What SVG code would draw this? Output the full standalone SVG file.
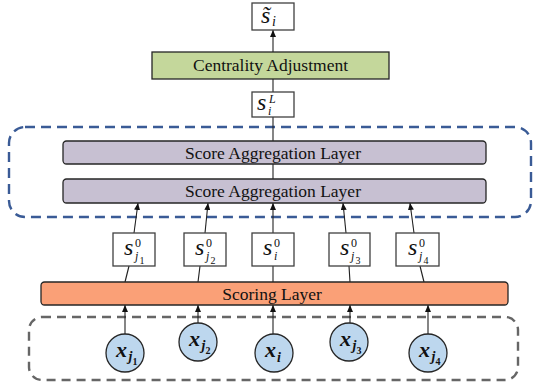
<svg xmlns="http://www.w3.org/2000/svg" width="534" height="388" viewBox="0 0 534 388" font-family="Liberation Serif, Times New Roman, DejaVu Serif, serif">
<style>
.box{fill:#fff;stroke:#404040;stroke-width:1.3}
.lay{stroke:#262626;stroke-width:1.3}
.ca{fill:#C4D79B}
.sa{fill:#C7C0D2}
.sc{fill:#FAA077}
.nd{fill:#BDD7EE;stroke:#262626;stroke-width:1.3}
.lt{font-family:"Liberation Serif",serif;font-size:17.5px;fill:#111;text-anchor:middle}
.m{font-family:"Liberation Serif",serif;font-style:italic;fill:#111}
.b{font-weight:bold}
.u{font-style:normal}
.cn{stroke:#222;stroke-width:1.1;fill:none}
.ar{marker-end:url(#ah)}
</style>
<defs>
<marker id="ah" markerUnits="userSpaceOnUse" markerWidth="7" markerHeight="6" viewBox="0 0 7 6" refX="7" refY="3" orient="auto">
<path d="M0,0 L7,3 L0,6 z" fill="#111"/>
</marker>
</defs>

<rect id="group-top" x="9" y="127" width="522" height="90" rx="16" fill="none" stroke="#3A5B96" stroke-width="2.4" stroke-dasharray="10 6"/>
<rect id="group-bottom" x="29" y="317" width="489" height="63" rx="13" fill="none" stroke="#666" stroke-width="2.4" stroke-dasharray="9 6"/>

<g id="connectors">
<line class="cn ar" x1="273" y1="52" x2="273" y2="30"/>
<line class="cn" x1="273" y1="92" x2="273" y2="79"/>
<line class="cn" x1="273" y1="141" x2="273" y2="117"/>
<line class="cn" x1="273" y1="179" x2="273" y2="164"/>
<line class="cn ar" x1="134" y1="233" x2="138" y2="203"/>
<line class="cn ar" x1="205" y1="233" x2="208" y2="203"/>
<line class="cn ar" x1="273" y1="233" x2="273" y2="203"/>
<line class="cn ar" x1="346" y1="233" x2="343" y2="203"/>
<line class="cn ar" x1="414" y1="233" x2="410" y2="203"/>
<line class="cn" x1="125" y1="282" x2="129" y2="266"/>
<line class="cn" x1="198" y1="282" x2="200" y2="266"/>
<line class="cn" x1="273" y1="282" x2="273" y2="266"/>
<line class="cn" x1="350" y1="282" x2="349" y2="266"/>
<line class="cn" x1="424" y1="282" x2="420" y2="266"/>
<line class="cn ar" x1="125" y1="334" x2="125" y2="305"/>
<line class="cn ar" x1="198" y1="323" x2="198" y2="305"/>
<line class="cn ar" x1="273" y1="334" x2="273" y2="305"/>
<line class="cn ar" x1="350" y1="323" x2="350" y2="305"/>
<line class="cn ar" x1="428" y1="334" x2="428" y2="305"/>
</g>

<g id="s-tilde">
<rect class="box" x="252" y="3" width="42" height="27"/>
<text class="m"><tspan x="261" y="23" font-size="24">s&#771;</tspan><tspan x="272" y="26" font-size="14">i</tspan></text>
</g>

<g id="centrality">
<rect class="lay ca" x="152" y="52" width="237" height="27"/>
<text class="lt" x="270.5" y="71">Centrality Adjustment</text>
</g>

<g id="s-L">
<rect class="box" x="252" y="92" width="42" height="25"/>
<text class="m"><tspan x="257" y="110" font-size="24">s</tspan><tspan x="268" y="115" font-size="12">i</tspan><tspan x="269" y="102.5" font-size="12">L</tspan></text>
</g>

<g id="score-agg-1">
<rect class="lay sa" x="63" y="141" width="423" height="23" rx="3.5"/>
<text class="lt" x="273" y="158.5">Score Aggregation Layer</text>
</g>
<g id="score-agg-2">
<rect class="lay sa" x="63" y="179" width="423" height="24" rx="3.5"/>
<text class="lt" x="273" y="197">Score Aggregation Layer</text>
</g>

<g id="s0-j1">
<rect class="box" x="113" y="233" width="42" height="33"/>
<text class="m"><tspan x="124" y="255" font-size="24">s</tspan><tspan class="u" x="135" y="246.5" font-size="12">0</tspan><tspan x="135" y="260" font-size="12">j</tspan><tspan class="u" x="139.5" y="264" font-size="10">1</tspan></text>
</g>
<g id="s0-j2">
<rect class="box" x="184" y="233" width="42" height="33"/>
<text class="m"><tspan x="195" y="255" font-size="24">s</tspan><tspan class="u" x="206" y="246.5" font-size="12">0</tspan><tspan x="206" y="260" font-size="12">j</tspan><tspan class="u" x="210.5" y="264" font-size="10">2</tspan></text>
</g>
<g id="s0-i">
<rect class="box" x="252" y="233" width="42" height="33"/>
<text class="m"><tspan x="263" y="255" font-size="24">s</tspan><tspan class="u" x="274" y="246.5" font-size="12">0</tspan><tspan x="274" y="260" font-size="12">i</tspan></text>
</g>
<g id="s0-j3">
<rect class="box" x="329" y="233" width="41" height="33"/>
<text class="m"><tspan x="340" y="255" font-size="24">s</tspan><tspan class="u" x="351" y="246.5" font-size="12">0</tspan><tspan x="351" y="260" font-size="12">j</tspan><tspan class="u" x="355.5" y="264" font-size="10">3</tspan></text>
</g>
<g id="s0-j4">
<rect class="box" x="396" y="233" width="43" height="33"/>
<text class="m"><tspan x="408" y="255" font-size="24">s</tspan><tspan class="u" x="419" y="246.5" font-size="12">0</tspan><tspan x="419" y="260" font-size="12">j</tspan><tspan class="u" x="423.5" y="264" font-size="10">4</tspan></text>
</g>

<g id="scoring">
<rect class="lay sc" x="41" y="282" width="467" height="23" rx="3.5"/>
<text class="lt" x="272" y="299.5">Scoring Layer</text>
</g>

<g id="x-j1">
<circle class="nd" cx="125" cy="353" r="19"/>
<text class="m b"><tspan x="116" y="357" font-size="22">x</tspan><tspan x="128.5" y="361" font-size="14">j</tspan><tspan class="u" x="132.5" y="365" font-size="10">1</tspan></text>
</g>
<g id="x-j2">
<circle class="nd" cx="198" cy="342" r="19"/>
<text class="m b"><tspan x="189" y="346" font-size="22">x</tspan><tspan x="201.5" y="350" font-size="14">j</tspan><tspan class="u" x="205.5" y="354" font-size="10">2</tspan></text>
</g>
<g id="x-i">
<circle class="nd" cx="274" cy="353" r="19"/>
<text class="m b"><tspan x="265" y="357" font-size="22">x</tspan><tspan x="277" y="362" font-size="14">i</tspan></text>
</g>
<g id="x-j3">
<circle class="nd" cx="349" cy="342" r="19"/>
<text class="m b"><tspan x="340" y="346" font-size="22">x</tspan><tspan x="352.5" y="350" font-size="14">j</tspan><tspan class="u" x="356.5" y="354" font-size="10">3</tspan></text>
</g>
<g id="x-j4">
<circle class="nd" cx="428" cy="353" r="19"/>
<text class="m b"><tspan x="419" y="357" font-size="22">x</tspan><tspan x="431.5" y="361" font-size="14">j</tspan><tspan class="u" x="435.5" y="365" font-size="10">4</tspan></text>
</g>
</svg>
